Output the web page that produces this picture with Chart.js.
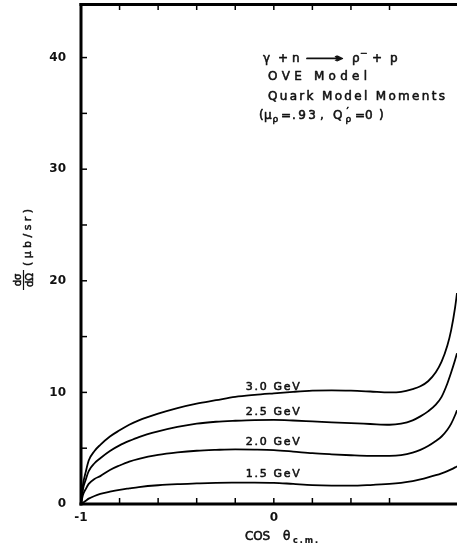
<!DOCTYPE html>
<html><head><meta charset="utf-8">
<script src="https://cdn.jsdelivr.net/npm/chart.js@4"></script>
<style>html,body{margin:0;padding:0;background:#fff}</style>
</head><body>
<canvas id="c" width="457" height="550"></canvas>
<script>
// ---- data ----
const cosTheta = [-1, -0.99, -0.975, -0.96, -0.93, -0.9, -0.85, -0.8, -0.75, -0.7, -0.6, -0.5, -0.4, -0.3, -0.2, -0.1, 0, 0.1, 0.2, 0.3, 0.4, 0.5, 0.6, 0.66, 0.72, 0.76, 0.8, 0.84, 0.87, 0.9, 0.92, 0.94, 0.95];
const sigma15 = [0, 0.12, 0.3, 0.48, 0.72, 0.9, 1.1, 1.27, 1.4, 1.52, 1.68, 1.78, 1.84, 1.89, 1.91, 1.92, 1.9, 1.8, 1.7, 1.65, 1.64, 1.7, 1.8, 1.9, 2.05, 2.2, 2.38, 2.58, 2.75, 2.95, 3.1, 3.28, 3.38];
const sigma20 = [0, 0.8, 1.35, 1.8, 2.25, 2.5, 3.05, 3.45, 3.8, 4.05, 4.4, 4.62, 4.77, 4.85, 4.9, 4.88, 4.83, 4.7, 4.55, 4.45, 4.37, 4.32, 4.32, 4.38, 4.6, 4.85, 5.2, 5.65, 6.05, 6.65, 7.2, 7.95, 8.4];
const sigma25 = [0, 1.3, 2.2, 2.95, 3.65, 4.1, 4.75, 5.25, 5.65, 6.0, 6.5, 6.9, 7.2, 7.37, 7.46, 7.52, 7.53, 7.48, 7.4, 7.32, 7.24, 7.17, 7.1, 7.2, 7.5, 7.85, 8.3, 8.9, 9.6, 10.8, 11.8, 12.9, 13.5];
const sigma30 = [0, 1.7, 2.9, 3.9, 4.75, 5.3, 6.05, 6.6, 7.1, 7.5, 8.1, 8.6, 9.0, 9.3, 9.6, 9.78, 9.92, 10.05, 10.15, 10.18, 10.15, 10.08, 10.0, 10.05, 10.3, 10.55, 11.0, 11.8, 12.75, 14.2, 15.6, 17.6, 18.9];
const energyLabels = ['1.5 GeV', '2.0 GeV', '2.5 GeV', '3.0 GeV'];
const energyLabelAt = [2.74, 5.65, 8.35, 10.6];   // value at cos = 0 where each label sits
const xTickLabels = {'-1': '-1', '0': '0'};
const yTickLabels = [0, 10, 20, 30, 40];

const FONT = '"DejaVu Sans", sans-serif';
const INK = '#111';

function txt(ctx, s, x, y) { ctx.fillText(s, x, y); ctx.strokeText(s, x, y); }
function spaced(ctx, text, xl, xr, yb) {
  const chars = [...text];
  const ws = chars.map(c => ctx.measureText(c).width);
  const total = ws.reduce((a, b) => a + b, 0);
  const sp = chars.length > 1 ? (xr - xl - total) / (chars.length - 1) : 0;
  let cx = xl;
  ctx.textAlign = 'left';
  chars.forEach((c, i) => { txt(ctx, c, cx, yb); cx += ws[i] + sp; });
}
function seg(ctx, x1, y1, x2, y2) { ctx.beginPath(); ctx.moveTo(x1, y1); ctx.lineTo(x2, y2); ctx.stroke(); }

const frame = {
  id: 'frame',
  afterDraw(chart) {
    const {ctx, chartArea: ca, scales: {x, y}} = chart;
    ctx.save();
    ctx.strokeStyle = '#000'; ctx.fillStyle = INK; ctx.lineCap = 'butt';
    // inward ticks
    ctx.lineWidth = 1.5;
    x.ticks.forEach(t => {
      const v = t.value;
      if (Math.abs(v / 0.2 - Math.round(v / 0.2)) > 1e-6 || v > 0.9 || v < -0.99) return;
      const px = x.getPixelForValue(v);
      seg(ctx, px, ca.bottom, px, ca.bottom - 6);
      seg(ctx, px, ca.top, px, ca.top + 6);
    });
    y.ticks.forEach(t => {
      const v = t.value;
      if (Math.abs(v / 5 - Math.round(v / 5)) > 1e-6 || v < 1) return;
      const py = y.getPixelForValue(v);
      seg(ctx, ca.left, py, ca.left + 6, py);
    });
    // frame
    ctx.lineWidth = 3;
    seg(ctx, ca.left, ca.top - 1, ca.left, ca.bottom + 1.5);
    seg(ctx, ca.left - 1.5, ca.bottom, ca.right, ca.bottom);
    seg(ctx, ca.left - 1.5, ca.top + 0.5, ca.right, ca.top + 0.5);

    ctx.strokeStyle = INK;
    ctx.lineWidth = 0.55;
    ctx.lineJoin = 'round';

    // curve labels
    ctx.font = '11px ' + FONT;
    energyLabels.forEach((lab, i) => {
      const cx = x.getPixelForValue(0) - 1;
      const py = y.getPixelForValue(energyLabelAt[i]);
      spaced(ctx, lab, cx - 27, cx + 27, py + 4);
    });

    // annotation block
    const F = '12px ' + FONT;
    ctx.font = F;
    ctx.textAlign = 'left';
    let b = 61.5;
    txt(ctx, 'γ', 263, b);
    txt(ctx, '+', 278, b);
    txt(ctx, 'n', 292, b);
    const aw = ctx.measureText('⟶').width;
    ctx.save(); ctx.translate(305, b); ctx.scale(38 / aw, 1); ctx.lineWidth = 0.8; txt(ctx, '⟶', 0, 0); ctx.restore();
    txt(ctx, 'ρ', 352, b);
    ctx.font = '9px ' + FONT; txt(ctx, '−', 360, 56);
    ctx.font = F;
    txt(ctx, '+', 372, b);
    txt(ctx, 'p', 390, b);

    spaced(ctx, 'OVE Model', 268, 367, 80);
    spaced(ctx, 'Quark Model Moments', 268, 445, 99.5);

    b = 118.5;
    txt(ctx, '(', 259, b);
    txt(ctx, 'μ', 264, b);
    ctx.font = '9px ' + FONT; txt(ctx, 'ρ', 272.5, 121.5);
    ctx.font = F;
    txt(ctx, '=', 281, b);
    spaced(ctx, '.93', 292, 316, b);
    txt(ctx, ',', 320, b);
    txt(ctx, 'Q', 333, b);
    ctx.font = '10px ' + FONT; txt(ctx, '′', 346.5, 114.5);
    ctx.font = '9px ' + FONT; txt(ctx, 'ρ', 345.5, 121.5);
    ctx.font = F;
    txt(ctx, '=', 355, b);
    txt(ctx, '0', 365, b);
    txt(ctx, ')', 379, b);

    // x axis title
    ctx.font = '12px ' + FONT;
    spaced(ctx, 'COS', 245, 270, 539.5);
    txt(ctx, 'θ', 283, 539.5);
    ctx.font = 'bold 8px ' + FONT; ctx.lineWidth = 0.2; spaced(ctx, 'c.m.', 293, 318, 542.5);
    ctx.lineWidth = 0.55;

    // y axis title (rotated)
    ctx.save();
    ctx.translate(23.5, 291);
    ctx.rotate(-Math.PI / 2);
    ctx.font = '10px ' + FONT; ctx.textAlign = 'center';
    txt(ctx, 'dσ', 11, -2.5);
    txt(ctx, 'dΩ', 11, 9);
    ctx.lineWidth = 1.2; seg(ctx, 1, 0, 21, 0);
    ctx.lineWidth = 0.5;
    ctx.font = '11px ' + FONT;
    spaced(ctx, '(μb/sr)', 25, 82, 7);
    ctx.restore();

    ctx.restore();
  }
};

const series = [sigma15, sigma20, sigma25, sigma30];
new Chart(document.getElementById('c'), {
  type: 'line',
  data: {
    datasets: series.map((s, i) => ({
      label: energyLabels[i],
      data: cosTheta.map((c, j) => ({x: c, y: s[j]})),
      borderColor: '#000',
      borderWidth: 1.8,
      pointRadius: 0,
      fill: false,
      cubicInterpolationMode: 'monotone'
    }))
  },
  options: {
    responsive: false,
    animation: false,
    devicePixelRatio: 1,
    layout: {padding: {top: 4, right: 0, bottom: 0, left: 0}},
    plugins: {legend: {display: false}, tooltip: {enabled: false}},
    scales: {
      x: {
        type: 'linear', min: -1, max: 0.95,
        grid: {display: false, drawTicks: false}, border: {display: false},
        ticks: {
          stepSize: 0.2, autoSkip: false, maxRotation: 0, padding: 7,
          color: INK, font: {family: FONT, size: 12, weight: 'bold'},
          callback: v => {
            if (Math.abs(v + 1) < 1e-6) return xTickLabels['-1'];
            if (Math.abs(v) < 1e-6) return xTickLabels['0'];
            return '';
          }
        },
        afterFit: s => { s.height = 46; s.paddingLeft = 0; s.paddingRight = 0; }
      },
      y: {
        type: 'linear', min: 0, max: 44.8,
        grid: {display: false, drawTicks: false}, border: {display: false},
        ticks: {
          stepSize: 5, autoSkip: false, padding: 15,
          color: INK, font: {family: FONT, size: 12, weight: 'bold'},
          callback: v => yTickLabels.includes(v) ? String(v) : ''
        },
        afterFit: s => { s.width = 81; s.paddingTop = 0; s.paddingBottom = 0; }
      }
    }
  },
  plugins: [frame]
});
</script>
</body></html>
